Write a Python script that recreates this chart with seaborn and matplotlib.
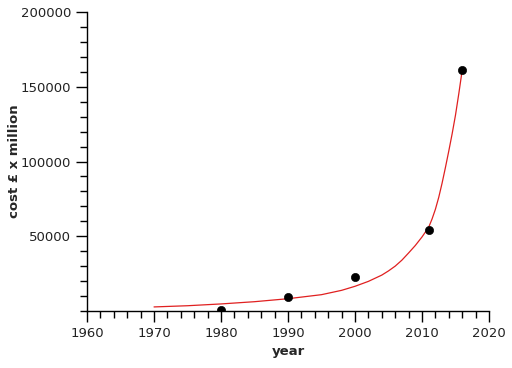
import pandas as pd
import seaborn as sns
import matplotlib.pyplot as plt
from matplotlib.ticker import MultipleLocator


sns.set_theme(style="ticks")
plt.rcParams['font.family'] = ['DejaVu Sans']

# observed costs
years = [1980, 1990, 2000, 2011, 2016]
costs = [500, 9200, 22500, 54200, 161000]

# fitted trend line
fit_years = [1970, 1975, 1980, 1985, 1990, 1995, 1998, 2000, 2002, 2004,
             2005, 2006, 2007, 2008, 2009, 2010, 2011, 2011.5, 2012, 2012.5,
             2013, 2013.5, 2014, 2014.5, 2015, 2015.5, 2016]
fit_costs = [2700, 3500, 4700, 6200, 8200, 10900, 13800, 16500, 19800, 24000,
             26800, 30000, 34000, 38800, 43800, 49500, 56000, 61500, 68000, 76000,
             85500, 96000, 107000, 118500, 131000, 145500, 161000]

pts = pd.DataFrame({"year": years, "cost": costs})
fit = pd.DataFrame({"year": fit_years, "cost": fit_costs})

fig = plt.figure(figsize=(5.12, 3.68), dpi=100)
ax = fig.add_axes([0.17, 0.155, 0.785, 0.812])

sns.lineplot(data=fit, x="year", y="cost", color="#e02020", linewidth=0.9, ax=ax)
sns.scatterplot(data=pts, x="year", y="cost", color="black", s=35,
                edgecolor="black", zorder=3, ax=ax)

ax.set_xlim(1960, 2020)
ax.set_ylim(0, 200000)
ax.set_xticks([1960, 1970, 1980, 1990, 2000, 2010, 2020])
ax.set_yticks([50000, 100000, 150000, 200000])
ax.xaxis.set_minor_locator(MultipleLocator(2))
ax.yaxis.set_minor_locator(MultipleLocator(10000))
ax.tick_params(which="major", length=8, width=1, color="black",
               labelsize=9.5, labelcolor="#222222")
ax.tick_params(which="minor", length=5, width=1, color="black")
for s in ["left", "bottom"]:
    ax.spines[s].set_color("black")
    ax.spines[s].set_linewidth(1)
sns.despine(ax=ax)

ax.set_xlabel("year", fontweight="bold", fontsize=9.5)
ax.set_ylabel("cost £ x million", fontweight="bold", fontsize=9.5, labelpad=0)

plt.savefig("out.png", dpi=100)
